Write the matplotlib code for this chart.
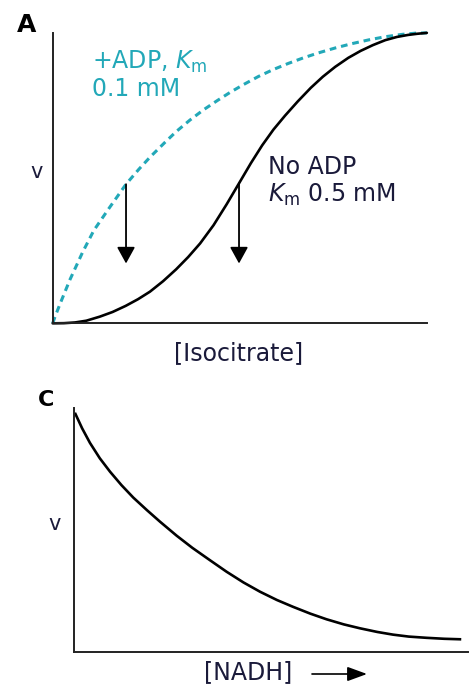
import matplotlib
matplotlib.use("Agg")
import matplotlib.pyplot as plt
from matplotlib.patches import FancyArrowPatch

# ---------------- data ----------------
# Panel A: rate v vs [Isocitrate], normalised axes 0..1
adp_x = [0.0, 0.006, 0.02, 0.046, 0.08, 0.11, 0.15, 0.196, 0.23, 0.26, 0.30,
         0.33, 0.367, 0.403, 0.44, 0.474, 0.51, 0.55, 0.59, 0.63, 0.67, 0.71,
         0.755, 0.80, 0.845, 0.89, 0.935, 0.97, 1.0]
adp_y = [0.0, 0.022, 0.068, 0.150, 0.245, 0.32, 0.395, 0.479, 0.53, 0.572,
         0.623, 0.66, 0.70, 0.735, 0.767, 0.795, 0.822, 0.85, 0.874, 0.895,
         0.914, 0.931, 0.948, 0.963, 0.976, 0.987, 0.995, 0.999, 1.0]

noadp_x = [0.0, 0.03, 0.06, 0.09, 0.126, 0.16, 0.195, 0.228, 0.260, 0.295,
           0.33, 0.362, 0.394, 0.43, 0.465, 0.498, 0.53, 0.56, 0.59, 0.621,
           0.655, 0.69, 0.722, 0.755, 0.79, 0.823, 0.856, 0.889, 0.92, 0.95,
           0.975, 1.0]
noadp_y = [0.0, 0.0005, 0.003, 0.009, 0.023, 0.039, 0.060, 0.083, 0.109,
           0.145, 0.186, 0.228, 0.275, 0.338, 0.410, 0.482, 0.552, 0.613,
           0.667, 0.715, 0.764, 0.811, 0.849, 0.883, 0.914, 0.938, 0.958,
           0.975, 0.986, 0.993, 0.997, 1.0]

# arrows marking half-maximal rate (x position, y start, y end)
arrow_x = [0.196, 0.498]
arrow_y_start = [0.479, 0.482]
arrow_y_end = [0.206, 0.206]

# Panel C: rate v vs [NADH]
nadh_x = [0.003, 0.02, 0.04, 0.065, 0.091, 0.12, 0.15, 0.185, 0.218, 0.26,
          0.30, 0.345, 0.387, 0.43, 0.472, 0.515, 0.556, 0.60, 0.641, 0.685,
          0.726, 0.77, 0.81, 0.85, 0.895, 0.94, 0.98]
nadh_y = [0.975, 0.916, 0.856, 0.793, 0.738, 0.683, 0.632, 0.580, 0.533,
          0.476, 0.426, 0.375, 0.328, 0.284, 0.246, 0.212, 0.184, 0.156,
          0.133, 0.112, 0.096, 0.081, 0.070, 0.062, 0.057, 0.053, 0.051]

TEAL = "#22a8b8"
DARK = "#1a1a3a"
FS = 17

plt.rcParams["font.family"] = ["DejaVu Sans"]
plt.rcParams["mathtext.fontset"] = "dejavusans"

fig = plt.figure(figsize=(4.73, 6.85), dpi=100)

def style(ax):
    ax.set_xlim(0, 1)
    ax.set_ylim(0, 1)
    for s in ("top", "right"):
        ax.spines[s].set_visible(False)
    for s in ("left", "bottom"):
        ax.spines[s].set_linewidth(1.4)
        ax.spines[s].set_color("#222222")
    ax.set_xticks([])
    ax.set_yticks([])
    ax.patch.set_alpha(0)

# ---------------- Panel A ----------------
axA = fig.add_axes([0.1114, 0.528, 0.791, 0.424])
style(axA)
axA.plot(adp_x, adp_y, color=TEAL, lw=2.2, ls=(0, (2.2, 1.6)), clip_on=False)
axA.plot(noadp_x, noadp_y, color="black", lw=1.9, clip_on=False,
         solid_capstyle="round", solid_joinstyle="round")
for x0, ys, ye in zip(arrow_x, arrow_y_start, arrow_y_end):
    axA.annotate("", xy=(x0, ye), xytext=(x0, ys),
                 arrowprops=dict(arrowstyle="-|>,head_length=1.0,head_width=0.55",
                                 color="black", lw=1.3, shrinkA=0, shrinkB=0))

axA.text(0.105, 0.878, r"+ADP, $\mathit{K}_{\mathrm{m}}$", color=TEAL,
         fontsize=FS, va="baseline", ha="left")
axA.text(0.105, 0.782, "0.1 mM", color=TEAL, fontsize=FS,
         va="baseline", ha="left")
axA.text(0.575, 0.514, "No ADP", color=DARK, fontsize=FS,
         va="baseline", ha="left")
axA.text(0.575, 0.418, r"$\mathit{K}_{\mathrm{m}}$ 0.5 mM", color=DARK,
         fontsize=FS, va="baseline", ha="left")

fig.text(0.036, 1 - 32 / 685, "A", fontsize=18, fontweight="bold",
         color="black", va="baseline", ha="left")
fig.text(36.7 / 473, 1 - 172.5 / 685, "v", fontsize=15, color=DARK,
         va="center", ha="center")
fig.text(239 / 473, 1 - 360 / 685, "[Isocitrate]", fontsize=FS, color=DARK,
         va="baseline", ha="center")

# ---------------- Panel C ----------------
axC = fig.add_axes([0.157, 0.0486, 0.832, 0.356])
style(axC)
axC.plot(nadh_x, nadh_y, color="black", lw=1.9, clip_on=False,
         solid_joinstyle="round")

fig.text(38 / 473, 1 - 406 / 685, "C", fontsize=16, fontweight="bold",
         color="black", va="baseline", ha="left")
fig.text(54.7 / 473, 1 - 524.5 / 685, "v", fontsize=15, color=DARK,
         va="center", ha="center")
fig.text(248 / 473, 1 - 679 / 685, "[NADH]", fontsize=FS, color=DARK,
         va="baseline", ha="center")
fig.add_artist(FancyArrowPatch(
    (312 / 473, 1 - 674 / 685), (367 / 473, 1 - 674 / 685),
    transform=fig.transFigure, arrowstyle="-|>,head_length=0.6,head_width=0.22",
    color="black", lw=1.2, shrinkA=0, shrinkB=0, mutation_scale=20))

fig.savefig("out.png", dpi=100, facecolor="white")
